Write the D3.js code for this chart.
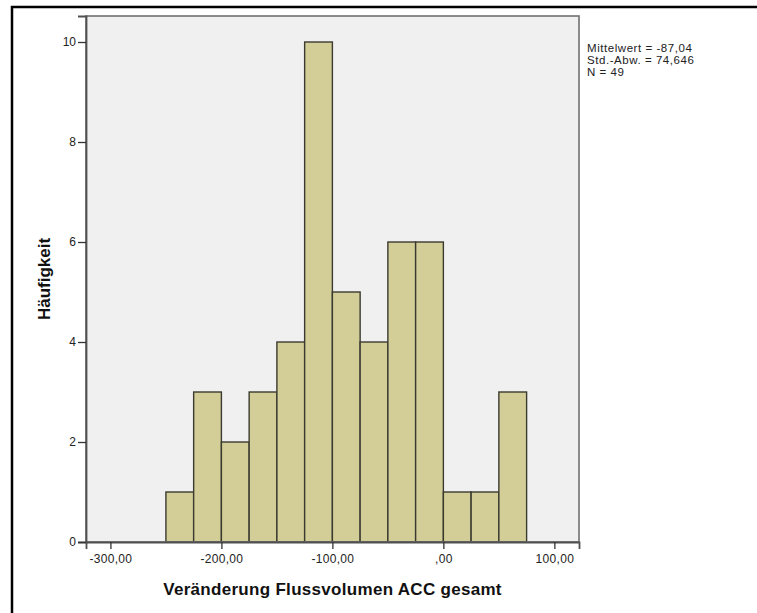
<!DOCTYPE html>
<html>
<head>
<meta charset="utf-8">
<script src="https://cdn.jsdelivr.net/npm/d3@7/dist/d3.min.js"></script>
<style>
  html, body { margin: 0; padding: 0; background: #fff; overflow: hidden; }
  svg { display: block; font-family: "Liberation Sans", Arial, sans-serif; }
</style>
</head>
<body>
<svg id="chart" width="757" height="613"></svg>
<script>
// Histogram of the change in ACC flow volume (25-unit bins)
const binEdges = [-250, -225, -200, -175, -150, -125, -100, -75, -50, -25, 0, 25, 50, 75];
const counts = [1, 3, 2, 3, 4, 10, 5, 4, 6, 6, 1, 1, 3];
const xTicks = [-300, -200, -100, 0, 100];
const xTickLabels = ["-300,00", "-200,00", "-100,00", ",00", "100,00"];
const yTicks = [0, 2, 4, 6, 8, 10];
const statsLines = ["Mittelwert = -87,04", "Std.-Abw. = 74,646", "N = 49"];
const xTitle = "Veränderung Flussvolumen ACC gesamt";
const yTitle = "Häufigkeit";

const bins = counts.map((c, i) => ({ x0: binEdges[i], x1: binEdges[i + 1], count: c }));

const plot = { left: 86, right: 579, top: 16, bottom: 542 };

const svg = d3.select("#chart");

// outer frame (top and left edges)
svg.append("path")
  .attr("d", "M12,613 L12,7 L757,7")
  .attr("fill", "none")
  .attr("stroke", "#000").attr("stroke-width", 2.5);

const x = d3.scaleLinear().domain([-322, 122.2]).range([plot.left, plot.right]);
const y = d3.scaleLinear().domain([0, 10.52]).range([plot.bottom, plot.top]);

// plot background
svg.append("rect")
  .attr("x", plot.left).attr("y", plot.top)
  .attr("width", plot.right - plot.left).attr("height", plot.bottom - plot.top)
  .attr("fill", "#f0f0f0");

// bars
svg.append("g").selectAll("rect")
  .data(bins)
  .join("rect")
  .attr("x", d => x(d.x0))
  .attr("y", d => y(d.count))
  .attr("width", d => x(d.x1) - x(d.x0))
  .attr("height", d => y(0) - y(d.count))
  .attr("fill", "#d3ce97")
  .attr("stroke", "#3a3a30")
  .attr("stroke-width", 1.4);

// plot frame
svg.append("rect")
  .attr("x", plot.left).attr("y", plot.top)
  .attr("width", plot.right - plot.left).attr("height", plot.bottom - plot.top)
  .attr("fill", "none")
  .attr("stroke", "#707070").attr("stroke-width", 1.6);

// axes
const xAxis = svg.append("g")
  .attr("transform", `translate(0,${plot.bottom})`)
  .call(d3.axisBottom(x).tickValues(xTicks)
    .tickFormat((d, i) => xTickLabels[i])
    .tickSizeOuter(0).tickSize(7).tickPadding(5));
xAxis.select(".domain").attr("stroke", "#505050").attr("stroke-width", 1.8);
xAxis.selectAll(".tick line").attr("stroke", "#333").attr("stroke-width", 1.3);
xAxis.selectAll(".tick text")
  .attr("font-family", "Liberation Sans, Arial, sans-serif")
  .attr("font-size", 12).attr("letter-spacing", 0.3).attr("fill", "#222");

const yAxis = svg.append("g")
  .attr("transform", `translate(${plot.left},0)`)
  .call(d3.axisLeft(y).tickValues(yTicks)
    .tickFormat(d3.format("d"))
    .tickSizeOuter(0).tickSize(8).tickPadding(2));
yAxis.select(".domain").attr("stroke", "#505050").attr("stroke-width", 1.8);
yAxis.selectAll(".tick line").attr("stroke", "#333").attr("stroke-width", 1.3);
yAxis.selectAll(".tick text")
  .attr("font-family", "Liberation Sans, Arial, sans-serif")
  .attr("font-size", 12).attr("fill", "#222");

// axis titles
svg.append("text")
  .attr("x", (plot.left + plot.right) / 2).attr("y", 595)
  .attr("text-anchor", "middle")
  .attr("font-size", 17).attr("font-weight", "bold")
  .attr("letter-spacing", 0.3)
  .attr("fill", "#111")
  .text(xTitle);

svg.append("text")
  .attr("transform", `translate(50,${(plot.top + plot.bottom) / 2}) rotate(-90)`)
  .attr("text-anchor", "middle")
  .attr("font-size", 17).attr("font-weight", "bold")
  .attr("fill", "#111")
  .text(yTitle);

// summary statistics
svg.append("g").selectAll("text")
  .data(statsLines)
  .join("text")
  .attr("x", 587)
  .attr("y", (d, i) => 52 + i * 12)
  .attr("font-size", 11.5)
  .attr("letter-spacing", 0.55)
  .attr("fill", "#222")
  .text(d => d);
</script>
</body>
</html>
